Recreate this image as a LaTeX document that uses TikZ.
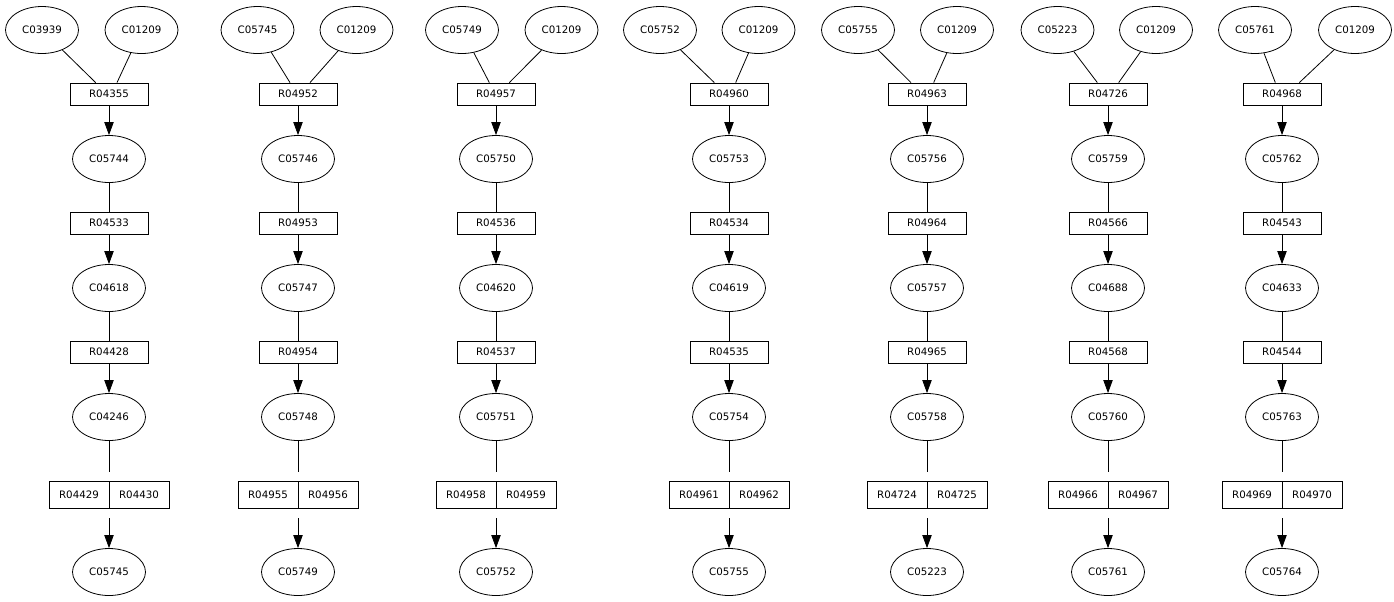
\documentclass[tikz,border=0pt]{standalone}
\usepackage{fontspec}
\setmainfont{DejaVu Sans}
\usetikzlibrary{arrows.meta,shapes.geometric}

\tikzset{
  cpd/.style={draw, ellipse, line width=0.6pt, minimum width=54.75pt, minimum height=35.25pt, inner sep=0pt},
  rxn/.style={draw, rectangle, line width=0.6pt, minimum width=58.5pt, minimum height=16.5pt, inner sep=0pt},
  half/.style={draw, rectangle, line width=0.6pt, minimum width=45pt, minimum height=20.25pt, inner sep=0pt},
  link/.style={line width=0.6pt},
  flow/.style={line width=0.6pt, -{Triangle[length=9.75pt, width=7pt]}}
}

\begin{document}
\begin{tikzpicture}[x=0.75pt, y=-0.75pt, font=\fontsize{7.7}{9}\selectfont]
  \useasboundingbox (0,0) rectangle (1394,601);

  % first column
  \draw (42,30) node[cpd] (C03939) {C03939};
  \draw (141.5,30) node[cpd] (C01209a) {C01209};
  \draw (109,94) node[rxn] (R04355) {R04355};
  \draw (109,159) node[cpd] (C05744) {C05744};
  \draw (109,223) node[rxn] (R04533) {R04533};
  \draw (109,288) node[cpd] (C04618) {C04618};
  \draw (109,352) node[rxn] (R04428) {R04428};
  \draw (109,417) node[cpd] (C04246) {C04246};
  \draw (79,494.5) node[half] (R04429) {R04429};
  \draw (139,494.5) node[half] (R04430) {R04430};
  \draw (109,572) node[cpd] (C05745) {C05745};
  \coordinate (in1) at (109,472);
  \coordinate (out1) at (109,518);

  \draw[link] (C03939) -- ([xshift=-10]R04355.north);
  \draw[link] (C01209a) -- ([xshift=6]R04355.north);
  \draw[flow] (R04355) -- (C05744);
  \draw[link] (C05744) -- (R04533);
  \draw[flow] (R04533) -- (C04618);
  \draw[link] (C04618) -- (R04428);
  \draw[flow] (R04428) -- (C04246);
  \draw[link] (C04246) -- (in1);
  \draw[flow] (out1) -- (C05745);

  % second column
  \draw (257.5,30) node[cpd] (C05745t) {C05745};
  \draw (356.5,30) node[cpd] (C01209b) {C01209};
  \draw (298,94) node[rxn] (R04952) {R04952};
  \draw (298,159) node[cpd] (C05746) {C05746};
  \draw (298,223) node[rxn] (R04953) {R04953};
  \draw (298,288) node[cpd] (C05747) {C05747};
  \draw (298,352) node[rxn] (R04954) {R04954};
  \draw (298,417) node[cpd] (C05748) {C05748};
  \draw (268,494.5) node[half] (R04955) {R04955};
  \draw (328,494.5) node[half] (R04956) {R04956};
  \draw (298,572) node[cpd] (C05749) {C05749};
  \coordinate (in2) at (298,472);
  \coordinate (out2) at (298,518);

  \draw[link] (C05745t) -- ([xshift=-6]R04952.north);
  \draw[link] (C01209b) -- ([xshift=9]R04952.north);
  \draw[flow] (R04952) -- (C05746);
  \draw[link] (C05746) -- (R04953);
  \draw[flow] (R04953) -- (C05747);
  \draw[link] (C05747) -- (R04954);
  \draw[flow] (R04954) -- (C05748);
  \draw[link] (C05748) -- (in2);
  \draw[flow] (out2) -- (C05749);

  % third column
  \draw (462,30) node[cpd] (C05749t) {C05749};
  \draw (561.5,30) node[cpd] (C01209c) {C01209};
  \draw (496,94) node[rxn] (R04957) {R04957};
  \draw (496,159) node[cpd] (C05750) {C05750};
  \draw (496,223) node[rxn] (R04536) {R04536};
  \draw (496,288) node[cpd] (C04620) {C04620};
  \draw (496,352) node[rxn] (R04537) {R04537};
  \draw (496,417) node[cpd] (C05751) {C05751};
  \draw (466,494.5) node[half] (R04958) {R04958};
  \draw (526,494.5) node[half] (R04959) {R04959};
  \draw (496,572) node[cpd] (C05752) {C05752};
  \coordinate (in3) at (496,472);
  \coordinate (out3) at (496,518);

  \draw[link] (C05749t) -- ([xshift=-5]R04957.north);
  \draw[link] (C01209c) -- ([xshift=10]R04957.north);
  \draw[flow] (R04957) -- (C05750);
  \draw[link] (C05750) -- (R04536);
  \draw[flow] (R04536) -- (C04620);
  \draw[link] (C04620) -- (R04537);
  \draw[flow] (R04537) -- (C05751);
  \draw[link] (C05751) -- (in3);
  \draw[flow] (out3) -- (C05752);

  % fourth column
  \draw (660,30) node[cpd] (C05752t) {C05752};
  \draw (758.5,30) node[cpd] (C01209d) {C01209};
  \draw (729,94) node[rxn] (R04960) {R04960};
  \draw (729,159) node[cpd] (C05753) {C05753};
  \draw (729,223) node[rxn] (R04534) {R04534};
  \draw (729,288) node[cpd] (C04619) {C04619};
  \draw (729,352) node[rxn] (R04535) {R04535};
  \draw (729,417) node[cpd] (C05754) {C05754};
  \draw (699,494.5) node[half] (R04961) {R04961};
  \draw (759,494.5) node[half] (R04962) {R04962};
  \draw (729,572) node[cpd] (C05755) {C05755};
  \coordinate (in4) at (729,472);
  \coordinate (out4) at (729,518);

  \draw[link] (C05752t) -- ([xshift=-11]R04960.north);
  \draw[link] (C01209d) -- ([xshift=5]R04960.north);
  \draw[flow] (R04960) -- (C05753);
  \draw[link] (C05753) -- (R04534);
  \draw[flow] (R04534) -- (C04619);
  \draw[link] (C04619) -- (R04535);
  \draw[flow] (R04535) -- (C05754);
  \draw[link] (C05754) -- (in4);
  \draw[flow] (out4) -- (C05755);

  % fifth column
  \draw (858,30) node[cpd] (C05755t) {C05755};
  \draw (957,30) node[cpd] (C01209e) {C01209};
  \draw (927,94) node[rxn] (R04963) {R04963};
  \draw (927,159) node[cpd] (C05756) {C05756};
  \draw (927,223) node[rxn] (R04964) {R04964};
  \draw (927,288) node[cpd] (C05757) {C05757};
  \draw (927,352) node[rxn] (R04965) {R04965};
  \draw (927,417) node[cpd] (C05758) {C05758};
  \draw (897,494.5) node[half] (R04724) {R04724};
  \draw (957,494.5) node[half] (R04725) {R04725};
  \draw (927,572) node[cpd] (C05223) {C05223};
  \coordinate (in5) at (927,472);
  \coordinate (out5) at (927,518);

  \draw[link] (C05755t) -- ([xshift=-12]R04963.north);
  \draw[link] (C01209e) -- ([xshift=5]R04963.north);
  \draw[flow] (R04963) -- (C05756);
  \draw[link] (C05756) -- (R04964);
  \draw[flow] (R04964) -- (C05757);
  \draw[link] (C05757) -- (R04965);
  \draw[flow] (R04965) -- (C05758);
  \draw[link] (C05758) -- (in5);
  \draw[flow] (out5) -- (C05223);

  % sixth column
  \draw (1057.5,30) node[cpd] (C05223t) {C05223};
  \draw (1156,30) node[cpd] (C01209f) {C01209};
  \draw (1108,94) node[rxn] (R04726) {R04726};
  \draw (1108,159) node[cpd] (C05759) {C05759};
  \draw (1108,223) node[rxn] (R04566) {R04566};
  \draw (1108,288) node[cpd] (C04688) {C04688};
  \draw (1108,352) node[rxn] (R04568) {R04568};
  \draw (1108,417) node[cpd] (C05760) {C05760};
  \draw (1078,494.5) node[half] (R04966) {R04966};
  \draw (1138,494.5) node[half] (R04967) {R04967};
  \draw (1108,572) node[cpd] (C05761) {C05761};
  \coordinate (in6) at (1108,472);
  \coordinate (out6) at (1108,518);

  \draw[link] (C05223t) -- ([xshift=-8]R04726.north);
  \draw[link] (C01209f) -- ([xshift=8]R04726.north);
  \draw[flow] (R04726) -- (C05759);
  \draw[link] (C05759) -- (R04566);
  \draw[flow] (R04566) -- (C04688);
  \draw[link] (C04688) -- (R04568);
  \draw[flow] (R04568) -- (C05760);
  \draw[link] (C05760) -- (in6);
  \draw[flow] (out6) -- (C05761);

  % seventh column
  \draw (1255,30) node[cpd] (C05761t) {C05761};
  \draw (1355,30) node[cpd] (C01209g) {C01209};
  \draw (1282,94) node[rxn] (R04968) {R04968};
  \draw (1282,159) node[cpd] (C05762) {C05762};
  \draw (1282,223) node[rxn] (R04543) {R04543};
  \draw (1282,288) node[cpd] (C04633) {C04633};
  \draw (1282,352) node[rxn] (R04544) {R04544};
  \draw (1282,417) node[cpd] (C05763) {C05763};
  \draw (1252,494.5) node[half] (R04969) {R04969};
  \draw (1312,494.5) node[half] (R04970) {R04970};
  \draw (1282,572) node[cpd] (C05764) {C05764};
  \coordinate (in7) at (1282,472);
  \coordinate (out7) at (1282,518);

  \draw[link] (C05761t) -- ([xshift=-5]R04968.north);
  \draw[link] (C01209g) -- ([xshift=13]R04968.north);
  \draw[flow] (R04968) -- (C05762);
  \draw[link] (C05762) -- (R04543);
  \draw[flow] (R04543) -- (C04633);
  \draw[link] (C04633) -- (R04544);
  \draw[flow] (R04544) -- (C05763);
  \draw[link] (C05763) -- (in7);
  \draw[flow] (out7) -- (C05764);

\end{tikzpicture}
\end{document}
